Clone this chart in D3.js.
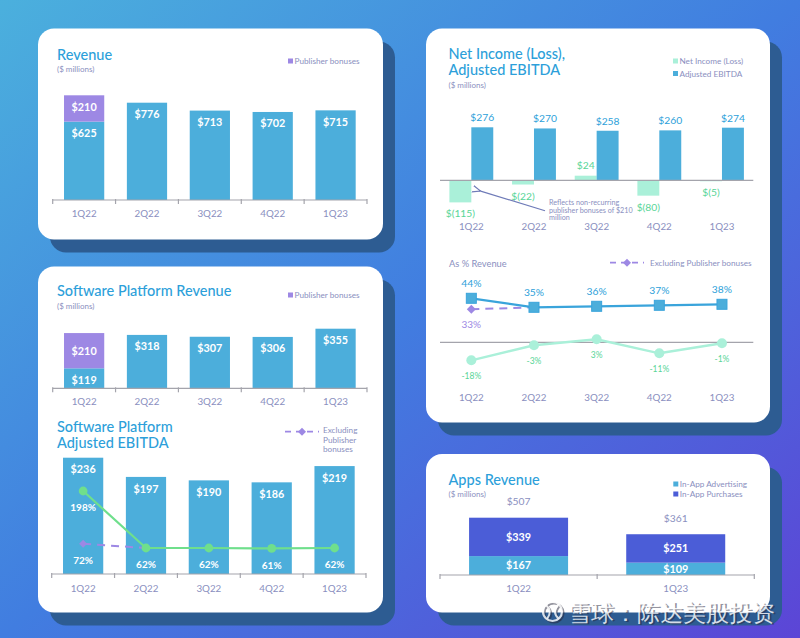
<!DOCTYPE html>
<html><head><meta charset="utf-8">
<script src="https://cdn.jsdelivr.net/npm/d3@7"></script>
<style>html,body{margin:0;padding:0;background:#fff}svg{display:block}text{font-family:Lato,"Open Sans",sans-serif}</style>
</head><body><svg id="c" width="800" height="638"></svg>
<script>
// ---------------- DATA ----------------
const quarters = ["1Q22","2Q22","3Q22","4Q22","1Q23"];
const revenueBase = [625,776,713,702,715];
const revenueBonus = [210,0,0,0,0];
const spRevenueBase = [119,318,307,306,355];
const spRevenueBonus = [210,0,0,0,0];
const spEbitda = [236,197,190,186,219];
const spEbitdaMargin = [198,62,62,61,62];
const spEbitdaMarginExBonus = [72,62];          // 1Q22 -> 2Q22
const netIncome = [-115,-22,24,-80,-5];
const adjEbitda = [276,270,258,260,274];
const adjEbitdaPct = [44,35,36,37,38];
const adjEbitdaPctExBonus = [33,35];           // 1Q22 -> 2Q22
const netIncomePct = [-18,-3,3,-11,-1];
const appsQuarters = ["1Q22","1Q23"];
const inAppAdvertising = [167,109];
const inAppPurchases = [339,251];
const appsTotal = [507,361];

// ---------------- STYLE ----------------
const C = {
  title:"#2d9fda", grey:"#8a8fc0", bar:"#4caedb", bonus:"#9d88e4",
  mint:"#aaf0d9", mintTxt:"#58d597", green:"#6fdf8c", purch:"#4b5dd7",
  axis:"#a4a4ac", shadow:"#2d5c92", line:"#3aa4db"
};
const TW = 500;
const svg = d3.select("#c");
const defs = svg.append("defs");
const bg = defs.append("linearGradient").attr("id","bg").attr("x1","0").attr("y1","0").attr("x2","1").attr("y2","1");
bg.append("stop").attr("offset","0").attr("stop-color","#4bb0dd");
bg.append("stop").attr("offset","0.5").attr("stop-color","#417de0");
bg.append("stop").attr("offset","1").attr("stop-color","#5c45d6");
const mk = defs.append("marker").attr("id","arr").attr("viewBox","0 0 10 10").attr("refX",2).attr("refY",5)
  .attr("markerWidth",7).attr("markerHeight",7).attr("orient","auto-start-reverse");
mk.append("path").attr("d","M10,1 L0,5 L10,9").attr("fill","none").attr("stroke","#6f7bb8").attr("stroke-width",1.4);

svg.append("rect").attr("width",800).attr("height",638).attr("fill","url(#bg)");

function panel(x,y,w,h){
  svg.append("rect").attr("x",x+12).attr("y",y+13).attr("width",w).attr("height",h).attr("rx",16).attr("fill",C.shadow);
  svg.append("rect").attr("x",x).attr("y",y).attr("width",w).attr("height",h).attr("rx",16).attr("fill","#fff");
}
function txt(x,y,s,o={}){
  return svg.append("text").attr("x",x).attr("y",y).text(s)
    .attr("font-size",o.size||9).attr("fill",o.fill||C.grey)
    .attr("font-weight",o.weight||400).attr("text-anchor",o.anchor||"start");
}
function bandAxis(xs,y,labelY){
  const [a,b]=xs.range();
  svg.append("line").attr("x1",a).attr("x2",b).attr("y1",y).attr("y2",y).attr("stroke",C.axis).attr("stroke-width",1.2);
  const n=xs.domain().length;
  for(let i=0;i<=n;i++){
    const tx=a+i*xs.step();
    svg.append("line").attr("x1",tx).attr("x2",tx).attr("y1",y-1).attr("y2",y+4).attr("stroke",C.axis).attr("stroke-width",1.2);
  }
  if(labelY) xLabels(xs,labelY);
}
function xLabels(xs,labelY){
  xs.domain().forEach(q=>txt(xs(q)+xs.bandwidth()/2,labelY,q,{size:9.8,anchor:"middle"}));
}
function legendSq(x,y,color,label){
  svg.append("rect").attr("x",x).attr("y",y-5.5).attr("width",5).attr("height",5).attr("fill",color);
  txt(x+6.5,y,label,{size:8.2});
}
function diamond(x,y,color,r=4){
  svg.append("path").attr("d",`M${x},${y-r}L${x+r},${y}L${x},${y+r}L${x-r},${y}Z`).attr("fill",color);
}
const money = v => v<0 ? `$(${-v})` : `$${v}`;

// ---------------- PANELS ----------------
panel(38,28.5,345,211);
panel(38,266.5,345,346);
panel(426,28.5,344,394);
panel(426,454,344,158.5);

// ===== Panel 1: Revenue =====
txt(57,60,"Revenue",{size:14.5,fill:C.title,weight:TW});
txt(57,72,"($ millions)",{size:8});
legendSq(288,64,C.bonus,"Publisher bonuses");
{
  const x=d3.scaleBand().domain(quarters).range([52.7,367]).paddingInner(0.36).paddingOuter(0.18);
  const y=d3.scaleLinear().domain([0,835]).range([200,95.3]);
  quarters.forEach((q,i)=>{
    const b=revenueBase[i], p=revenueBonus[i], cx=x(q)+x.bandwidth()/2;
    svg.append("rect").attr("x",x(q)).attr("y",y(b)).attr("width",x.bandwidth()).attr("height",y(0)-y(b)).attr("fill",C.bar);
    txt(cx,y(b)+15.5,money(b),{size:10.8,fill:"#fff",weight:700,anchor:"middle"});
    if(p>0){
      svg.append("rect").attr("x",x(q)).attr("y",y(b+p)).attr("width",x.bandwidth()).attr("height",y(b)-y(b+p)).attr("fill",C.bonus);
      txt(cx,(y(b)+y(b+p))/2+3,money(p),{size:10.8,fill:"#fff",weight:700,anchor:"middle"});
    }
  });
  bandAxis(x,200,216.7);
}

// ===== Panel 2a: Software Platform Revenue =====
txt(57,296,"Software Platform Revenue",{size:14.5,fill:C.title,weight:TW});
txt(57,309,"($ millions)",{size:8});
legendSq(288,298,C.bonus,"Publisher bonuses");
{
  const x=d3.scaleBand().domain(quarters).range([52.7,367]).paddingInner(0.36).paddingOuter(0.18);
  const y=d3.scaleLinear().domain([0,355]).range([388.3,328.7]);
  quarters.forEach((q,i)=>{
    const b=spRevenueBase[i], p=spRevenueBonus[i], cx=x(q)+x.bandwidth()/2;
    svg.append("rect").attr("x",x(q)).attr("y",y(b)).attr("width",x.bandwidth()).attr("height",y(0)-y(b)).attr("fill",C.bar);
    txt(cx,y(b)+15.3,money(b),{size:10.8,fill:"#fff",weight:700,anchor:"middle"});
    if(p>0){
      svg.append("rect").attr("x",x(q)).attr("y",y(b+p)).attr("width",x.bandwidth()).attr("height",y(b)-y(b+p)).attr("fill",C.bonus);
      txt(cx,(y(b)+y(b+p))/2+4,money(p),{size:10.8,fill:"#fff",weight:700,anchor:"middle"});
    }
  });
  bandAxis(x,388.3,405);
}

// ===== Panel 2b: Software Platform Adjusted EBITDA =====
txt(57,432,"Software Platform",{size:14.5,fill:C.title,weight:TW});
txt(57,447.5,"Adjusted EBITDA",{size:14.5,fill:C.title,weight:TW});
svg.append("line").attr("x1",285).attr("x2",319).attr("y1",431.7).attr("y2",431.7).attr("stroke",C.bonus).attr("stroke-width",1.8).attr("stroke-dasharray","6,5");
diamond(302,431.7,C.bonus,4);
txt(323,432.7,"Excluding",{size:8.2});
txt(323,442.5,"Publisher",{size:8.2});
txt(323,452.3,"bonuses",{size:8.2});
{
  const x=d3.scaleBand().domain(quarters).range([51.7,366]).paddingInner(0.36).paddingOuter(0.18);
  const y=d3.scaleLinear().domain([0,236]).range([574,457.7]);
  const p=d3.scaleLinear().domain([0,198]).range([574,491]);
  const cx=q=>x(q)+x.bandwidth()/2;
  quarters.forEach((q,i)=>{
    const v=spEbitda[i];
    svg.append("rect").attr("x",x(q)).attr("y",y(v)).attr("width",x.bandwidth()).attr("height",y(0)-y(v)).attr("fill",C.bar);
    txt(cx(q),y(v)+15.6,money(v),{size:10.8,fill:"#fff",weight:700,anchor:"middle"});
  });
  const exQ=quarters.slice(0,spEbitdaMarginExBonus.length);
  svg.append("path").attr("d",d3.line().x((d,i)=>cx(exQ[i])).y(d=>p(d))(spEbitdaMarginExBonus))
    .attr("fill","none").attr("stroke",C.bonus).attr("stroke-width",2).attr("stroke-dasharray","8,6");
  diamond(cx(quarters[0]),p(spEbitdaMarginExBonus[0]),C.bonus,4);
  txt(cx(quarters[0]),p(spEbitdaMarginExBonus[0])+20.5,spEbitdaMarginExBonus[0]+"%",{size:10,fill:"#fff",weight:700,anchor:"middle"});
  svg.append("path").attr("d",d3.line().x((d,i)=>cx(quarters[i])).y(d=>p(d))(spEbitdaMargin))
    .attr("fill","none").attr("stroke",C.green).attr("stroke-width",2.2);
  quarters.forEach((q,i)=>{
    svg.append("circle").attr("cx",cx(q)).attr("cy",p(spEbitdaMargin[i])).attr("r",4.4).attr("fill",C.green);
    txt(cx(q),p(spEbitdaMargin[i])+20.3,spEbitdaMargin[i]+"%",{size:10,fill:"#fff",weight:700,anchor:"middle"});
  });
  bandAxis(x,574,591.7);
}

// ===== Panel 3: Net Income / Adjusted EBITDA =====
txt(448.5,59,"Net Income (Loss),",{size:14.5,fill:C.title,weight:TW});
txt(448.5,75,"Adjusted EBITDA",{size:14.5,fill:C.title,weight:TW});
txt(448.5,88,"($ millions)",{size:8});
legendSq(673,64,C.mint,"Net Income (Loss)");
legendSq(673,76.5,C.bar,"Adjusted EBITDA");
{
  const x=d3.scaleBand().domain(quarters).range([440,753.3]).paddingInner(0.3).paddingOuter(0.15);
  const xi=d3.scaleBand().domain(["ni","ebitda"]).range([0,x.bandwidth()]);
  const y=d3.scaleLinear().domain([0,276]).range([180.3,127.3]);
  quarters.forEach((q,i)=>{
    const ni=netIncome[i], eb=adjEbitda[i];
    const nx=x(q)+xi("ni"), ex=x(q)+xi("ebitda"), w=xi.bandwidth();
    svg.append("rect").attr("x",nx).attr("y",Math.min(y(ni),y(0))).attr("width",w).attr("height",Math.abs(y(ni)-y(0))).attr("fill",C.mint);
    svg.append("rect").attr("x",ex).attr("y",y(eb)).attr("width",w).attr("height",y(0)-y(eb)).attr("fill",C.bar);
    txt(ex+w/2,y(eb)-6,money(eb),{size:10.3,fill:C.title,anchor:"middle"});
    txt(nx+w/2,ni>=0?y(ni)-7:y(ni)+15,money(ni),{size:10.3,fill:C.mintTxt,anchor:"middle"});
  });
  svg.append("line").attr("x1",440).attr("x2",753.3).attr("y1",y(0)).attr("y2",y(0)).attr("stroke",C.axis).attr("stroke-width",1.2);
  xLabels(x,230.3);
  svg.append("line").attr("x1",545).attr("y1",210.7).attr("x2",479).attr("y2",190.6)
    .attr("stroke","#6f7bb8").attr("stroke-width",1.2).attr("marker-end","url(#arr)");
  txt(549,205,"Reflects non-recurring",{size:7.2});
  txt(549,212.7,"publisher bonuses of $210",{size:7.2});
  txt(549,220.4,"million",{size:7.2});

  // ---- As % Revenue ----
  txt(449,267,"As % Revenue",{size:9.3});
  svg.append("line").attr("x1",610).attr("x2",644).attr("y1",262.7).attr("y2",262.7).attr("stroke",C.bonus).attr("stroke-width",1.8).attr("stroke-dasharray","6,5");
  diamond(627,262.7,C.bonus,4);
  txt(650,265.5,"Excluding Publisher bonuses",{size:8.2});
  const p=d3.scaleLinear().domain([0,44]).range([342.3,298.3]);
  const cx=q=>x(q)+x.bandwidth()/2;
  svg.append("line").attr("x1",440).attr("x2",753.3).attr("y1",p(0)).attr("y2",p(0)).attr("stroke",C.axis).attr("stroke-width",1.2);
  svg.append("path").attr("d",d3.line().x((d,i)=>cx(quarters[i])).y(d=>p(d))(netIncomePct))
    .attr("fill","none").attr("stroke",C.mint).attr("stroke-width",2.4);
  quarters.forEach((q,i)=>{
    svg.append("circle").attr("cx",cx(q)).attr("cy",p(netIncomePct[i])).attr("r",5).attr("fill",C.mint);
    txt(cx(q),p(netIncomePct[i])+18.5,netIncomePct[i]+"%",{size:8.5,fill:C.mintTxt,anchor:"middle"});
  });
  const exQ=quarters.slice(0,adjEbitdaPctExBonus.length);
  svg.append("path").attr("d",d3.line().x((d,i)=>cx(exQ[i])).y(d=>p(d))(adjEbitdaPctExBonus))
    .attr("fill","none").attr("stroke",C.bonus).attr("stroke-width",2).attr("stroke-dasharray","8,6");
  diamond(cx(quarters[0]),p(adjEbitdaPctExBonus[0]),C.bonus,4.5);
  txt(cx(quarters[0]),p(adjEbitdaPctExBonus[0])+18.5,adjEbitdaPctExBonus[0]+"%",{size:10,fill:C.bonus,anchor:"middle"});
  svg.append("path").attr("d",d3.line().x((d,i)=>cx(quarters[i])).y(d=>p(d))(adjEbitdaPct))
    .attr("fill","none").attr("stroke",C.line).attr("stroke-width",2.2);
  quarters.forEach((q,i)=>{
    svg.append("rect").attr("x",cx(q)-5).attr("y",p(adjEbitdaPct[i])-5).attr("width",10).attr("height",10)
      .attr("fill",C.bar).attr("stroke",C.line).attr("stroke-width",1);
    txt(cx(q),p(adjEbitdaPct[i])-11.5,adjEbitdaPct[i]+"%",{size:10.3,fill:C.title,anchor:"middle"});
  });
  xLabels(x,400.7);
}

// ===== Panel 4: Apps Revenue =====
txt(448.5,484.5,"Apps Revenue",{size:14.5,fill:C.title,weight:TW});
txt(448.5,496.5,"($ millions)",{size:8});
legendSq(673.3,487,C.bar,"In-App Advertising");
legendSq(673.3,497,C.purch,"In-App Purchases");
{
  const x=d3.scaleBand().domain(appsQuarters).range([440,754.3]).paddingInner(0.37).paddingOuter(0.185);
  const y=d3.scaleLinear().domain([0,506]).range([575,517.7]);
  appsQuarters.forEach((q,i)=>{
    const a=inAppAdvertising[i], pu=inAppPurchases[i], cx=x(q)+x.bandwidth()/2;
    svg.append("rect").attr("x",x(q)).attr("y",y(a)).attr("width",x.bandwidth()).attr("height",y(0)-y(a)).attr("fill",C.bar);
    svg.append("rect").attr("x",x(q)).attr("y",y(a+pu)).attr("width",x.bandwidth()).attr("height",y(a)-y(a+pu)).attr("fill",C.purch);
    txt(cx,(y(0)+y(a))/2+3.8,money(a),{size:10.8,fill:"#fff",weight:700,anchor:"middle"});
    txt(cx,(y(a)+y(a+pu))/2+3.8,money(pu),{size:10.8,fill:"#fff",weight:700,anchor:"middle"});
    txt(cx,y(a+pu)-12.7,money(appsTotal[i]),{size:10.3,anchor:"middle"});
  });
  bandAxis(x,575,591.7);
}

// ===== Watermark =====
{
  const wm=svg.append("g").attr("opacity",0.92);
  const draw=(dx,dy,col)=>{
    wm.append("circle").attr("cx",552.5+dx).attr("cy",611.5+dy).attr("r",9.5).attr("fill","none").attr("stroke",col).attr("stroke-width",2.2);
    wm.append("path").attr("d",`M${546+dx},${605+dy} Q${553+dx},${611+dy} ${547+dx},${619+dy} M${559+dx},${604+dy} Q${551+dx},${612+dy} ${559+dx},${619+dy}`)
      .attr("fill","none").attr("stroke",col).attr("stroke-width",2);
    wm.append("text").attr("x",568+dx).attr("y",620.5+dy).text("雪球：陈达美股投资")
      .attr("font-family","'Noto Sans CJK SC',sans-serif").attr("font-size",22.5).attr("fill",col);
  };
  draw(1.5,1.5,"rgba(40,40,60,0.55)");
  draw(0,0,"rgba(255,255,255,0.88)");
}
</script></body></html>
